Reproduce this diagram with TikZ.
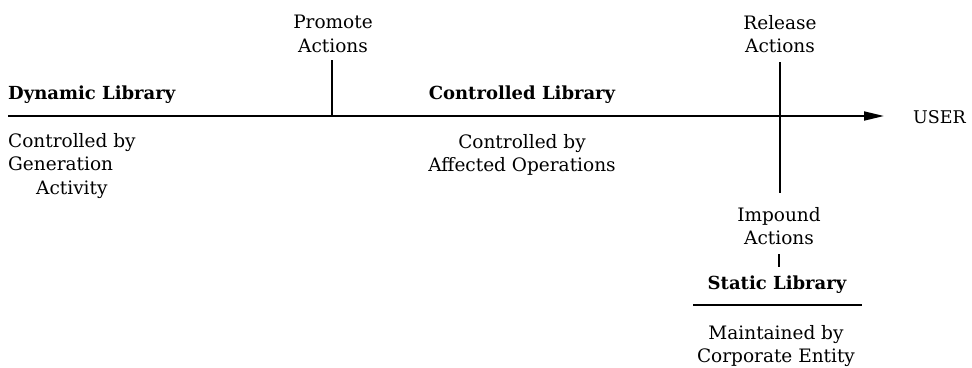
\documentclass[tikz,border=0pt]{standalone}
\usepackage{fontspec}
\setmainfont{DejaVu Serif}
\usetikzlibrary{arrows.meta}
\tikzset{
  txt/.style={inner sep=0pt, align=center, font=\fontsize{18.5}{23.5}\selectfont},
  ttl/.style={inner sep=0pt, align=center, font=\fontsize{18}{24}\selectfont\bfseries},
  ln/.style={line width=1.8pt},
}
\begin{document}
\begin{tikzpicture}[x=1pt,y=-1pt]
\useasboundingbox (0,0) rectangle (972,367);
% main axis
\coordinate (start) at (8,116);
\coordinate (tip) at (884,116);
\coordinate (p) at (332,116);
\coordinate (ptop) at (332,60);
\coordinate (rtop) at (780,62);
\coordinate (rbot) at (780,193);
\node[txt, anchor=east] (user) at (966,117) {\fontsize{17.5}{20}\selectfont USER};
\draw[ln,-{Triangle[length=20pt,width=9pt]}] (start) -- (tip);
% labels
\node[ttl, anchor=west] (dyn) at (8,95) {Dynamic Library};
\node[txt, anchor=north west, align=left] (dyndesc) at (8,133) {Controlled by\\Generation\\\hspace{28pt}Activity};
\node[txt] (promote) at (333,34) {Promote\\Actions};
\draw[ln] (ptop) -- (p);
\node[ttl] (ctl) at (522,95) {Controlled Library};
\node[txt] (ctldesc) at (522,155) {Controlled by\\Affected Operations};
\node[txt] (release) at (780,34) {Release\\Actions};
\draw[ln] (rtop) -- (rbot);
\node[txt] (impound) at (779,226) {Impound\\Actions};
\coordinate (i1) at (779,254);
\coordinate (i2) at (779,267);
\draw[ln] (i1) -- (i2);
\node[ttl] (static) at (777,285) {Static Library};
\coordinate (s1) at (693,305);
\coordinate (s2) at (862,305);
\draw[ln] (s1) -- (s2);
\node[txt] (maint) at (776,346) {Maintained by\\Corporate Entity};
\end{tikzpicture}
\end{document}
